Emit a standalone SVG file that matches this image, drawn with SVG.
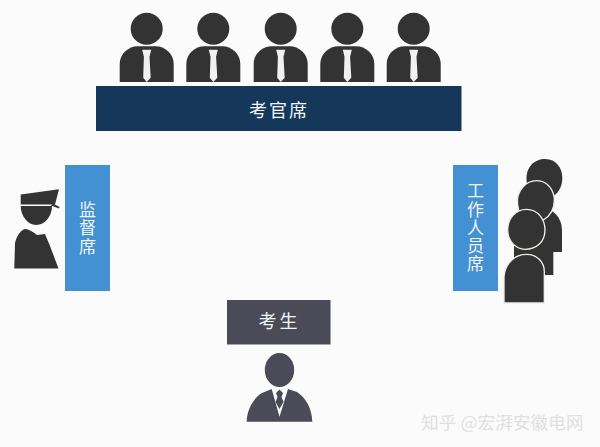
<svg xmlns="http://www.w3.org/2000/svg" width="600" height="447" viewBox="0 0 600 447">
<style>
text{font-family:"Noto Sans CJK SC","Liberation Sans",sans-serif;text-anchor:middle}
.lbl{fill:#f2f5f8;font-size:17px}
.vert{writing-mode:vertical-rl;letter-spacing:1.200px}
.dk{fill:#333333}
.tie{fill:#f1f1f1}
.wk{fill:#333333;stroke:#f0efe9;stroke-width:4}
</style>
<defs>
<g id="judge">
<circle cx="0" cy="0" r="16" class="dk"/>
<path class="dk" d="M-27 53.300V35C-27 25-18 17.500-9 17.500H9C18 17.500 27 25 27 35V53.300Z"/>
<path class="tie" d="M-4.500 21H4.500L2.800 28L4 49L0 53.300L-3.500 49L-2.800 28Z"/>
</g>
</defs>
<rect width="600" height="447" fill="#fbfbfb"/>
<g id="connectors"/>
<g id="examiners">
<use href="#judge" x="146.700" y="28.700"/>
<use href="#judge" x="213.300" y="28.700"/>
<use href="#judge" x="280.700" y="28.700"/>
<use href="#judge" x="347.300" y="28.700"/>
<use href="#judge" x="413.700" y="28.700"/>
</g>
<g id="examiner-bar">
<rect x="96" y="86" width="365.500" height="45" fill="#14375a"/>
<text x="279" y="117" class="lbl" style="font-size:18px" letter-spacing="2">考官席</text>
</g>
<g id="supervisor-bar">
<rect x="65" y="165" width="45" height="126" fill="#4391d2"/>
<text class="lbl vert" x="87.500" y="228.500">监督席</text>
</g>
<g id="supervisor" class="dk">
<path d="M20.700 194.500L59 189.300L55 204.500H20.700Z"/>
<path d="M53 203.500L59.500 207L59 208.500L51 205.500Z"/>
<path d="M20.700 206H52C52 216 45 225 36 225C28 225 20.700 216 20.700 206Z"/>
<path d="M14.300 268.500L15 243C17 235 21 230 25 229C29 229 33 232 37 235L45 234L50 246L58.500 268.500Z"/>
</g>
<g id="staff-bar">
<rect x="453" y="165" width="45" height="126" fill="#4391d2"/>
<text class="lbl vert" x="475.500" y="228">工作人员席</text>
</g>
<g id="staff" transform="translate(445 150) scale(.3333)">
<path class="dk" d="M290 170C325 178 350 200 351 240V306H290Z"/>
<path class="dk" d="M245 95C240 50 270 27 300 27C335 27 352 55 352 85C352 115 335 135 320 140L250 120Z"/>
<path class="dk" d="M260 235C300 240 325 265 325 300V375H260Z"/>
<path class="wk" d="M218 165C212 120 245 92 275 92C310 92 328 125 328 150C328 180 312 200 295 210L225 200Z"/>
<path class="dk" d="M207 270H300V370H207Z"/>
<path class="wk" d="M188 240C188 205 212 178 245 178C280 178 300 210 300 240C300 275 275 298 240 298C210 298 188 270 188 240Z"/>
<path class="wk" d="M177 457V380C180 340 210 313 245 313C275 313 298 335 298 365V459H177Z"/>
</g>
<g id="candidate-box">
<rect x="227" y="300" width="103.500" height="44.500" fill="#4a4b57"/>
<text class="lbl" x="279.500" y="328" style="font-size:18px" letter-spacing="3">考生</text>
</g>
<g id="candidate" fill="#4a4b57">
<ellipse cx="279.500" cy="370" rx="14.700" ry="17"/>
<path d="M246.700 421.700C247 408 255 397 262 393L271.700 389L279.500 416.700L288 389L297 392C305 397 312 408 312.300 421.700Z"/>
<path d="M276 393L279.500 389.500L283 393L281.500 397L283.500 402L279.500 409L275.500 402L277.500 397Z"/>
</g>
<text id="watermark" x="502.500" y="429" style="font-size:17.500px" fill="#e0e0e0" letter-spacing=".2">知乎 @宏湃安徽电网</text>
</svg>
